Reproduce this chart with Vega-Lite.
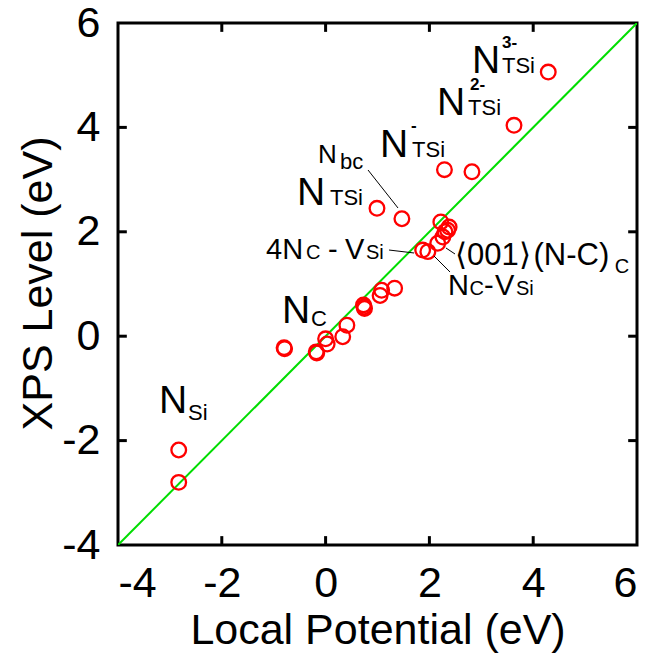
{
  "$schema": "https://vega.github.io/schema/vega-lite/v6.json",
  "width": 519,
  "height": 522,
  "autosize": "none",
  "padding": {"left": 118, "top": 23, "right": 17, "bottom": 110},
  "background": "white",
  "config": {
    "view": {"stroke": "black", "strokeWidth": 3},
    "axis": {"grid": false, "domain": false, "ticks": false, "labelFont": "Liberation Sans", "labelFontSize": 43, "labelColor": "black", "titleFont": "Liberation Sans", "titleFontSize": 43, "titleFontWeight": "normal", "titleColor": "black"}
  },
  "datasets": {
    "diag": [{"x": -4, "y": -4}, {"x": 6, "y": 6}],
    "tickvals": [{"v": -2}, {"v": 0}, {"v": 2}, {"v": 4}],
    "pts": [
      {"x": -2.83, "y": -2.18}, {"x": -2.83, "y": -2.80},
      {"x": -0.79, "y": -0.24}, {"x": -0.80, "y": -0.22},
      {"x": -0.18, "y": -0.30}, {"x": -0.17, "y": -0.32},
      {"x": 0.03, "y": -0.15}, {"x": 0.0, "y": -0.05},
      {"x": 0.33, "y": -0.01}, {"x": 0.41, "y": 0.21},
      {"x": 0.75, "y": 0.53}, {"x": 0.73, "y": 0.60}, {"x": 0.74, "y": 0.56},
      {"x": 1.05, "y": 0.78}, {"x": 1.08, "y": 0.88}, {"x": 1.33, "y": 0.92},
      {"x": 0.99, "y": 2.45}, {"x": 1.47, "y": 2.25},
      {"x": 1.87, "y": 1.65}, {"x": 1.97, "y": 1.62},
      {"x": 2.16, "y": 1.78}, {"x": 2.26, "y": 1.90}, {"x": 2.30, "y": 2.00},
      {"x": 2.35, "y": 2.03}, {"x": 2.38, "y": 2.09}, {"x": 2.22, "y": 2.19},
      {"x": 2.29, "y": 3.19}, {"x": 2.82, "y": 3.15},
      {"x": 3.63, "y": 4.04}, {"x": 4.29, "y": 5.06}
    ],
    "leaders": [
      {"x": 0.817, "y": 3.184, "x2": 1.395, "y2": 2.456},
      {"x": 1.222, "y": 1.651, "x2": 1.704, "y2": 1.594},
      {"x": 2.089, "y": 1.536, "x2": 2.397, "y2": 1.230},
      {"x": 2.319, "y": 1.690, "x2": 2.493, "y2": 1.575}
    ],
    "labels": [
      {"t": "N", "x": -3.21, "y": -1.471, "g": "lg"},
      {"t": "Si", "x": -2.651, "y": -1.605, "g": "sub"},
      {"t": "N", "x": -0.841, "y": 0.253, "g": "lg"},
      {"t": "C", "x": -0.281, "y": 0.195, "g": "sub"},
      {"t": "N", "x": -0.551, "y": 2.513, "g": "lg"},
      {"t": "TSi", "x": 0.085, "y": 2.513, "g": "sub"},
      {"t": "N", "x": -0.146, "y": 3.318, "g": "sm"},
      {"t": "bc", "x": 0.277, "y": 3.203, "g": "sub"},
      {"t": "N", "x": 1.048, "y": 3.433, "g": "lg"},
      {"t": "TSi", "x": 1.665, "y": 3.433, "g": "sub"},
      {"t": "-", "x": 1.645, "y": 3.931, "g": "sup"},
      {"t": "N", "x": 2.146, "y": 4.238, "g": "lg"},
      {"t": "TSi", "x": 2.744, "y": 4.238, "g": "sub"},
      {"t": "2-", "x": 2.782, "y": 4.716, "g": "sup"},
      {"t": "N", "x": 2.821, "y": 5.042, "g": "lg"},
      {"t": "TSi", "x": 3.399, "y": 5.042, "g": "sub"},
      {"t": "3-", "x": 3.399, "y": 5.521, "g": "sup"},
      {"t": "4N", "x": -1.148, "y": 1.479, "g": "md"},
      {"t": "C", "x": -0.378, "y": 1.479, "g": "sub2"},
      {"t": "-", "x": 0.046, "y": 1.479, "g": "md"},
      {"t": "V", "x": 0.374, "y": 1.479, "g": "md"},
      {"t": "Si", "x": 0.778, "y": 1.479, "g": "sub2"},
      {"t": "N", "x": 2.358, "y": 0.789, "g": "md"},
      {"t": "C", "x": 2.775, "y": 0.789, "g": "sub2"},
      {"t": "-", "x": 3.052, "y": 0.789, "g": "md"},
      {"t": "V", "x": 3.264, "y": 0.789, "g": "md"},
      {"t": "Si", "x": 3.669, "y": 0.789, "g": "sub2"},
      {"t": "⟨001⟩", "x": 2.493, "y": 1.364, "g": "md2"},
      {"t": "(N-C)", "x": 4.005, "y": 1.364, "g": "md2"},
      {"t": "C", "x": 5.57, "y": 1.211, "g": "sub2"}
    ]
  },
  "resolve": {"axis": {"x": "independent", "y": "independent"}},
  "layer": [
    {
      "data": {"name": "diag"},
      "mark": {"type": "line", "color": "#00dd00", "strokeWidth": 2, "clip": true},
      "encoding": {
        "x": {"field": "x", "type": "quantitative", "scale": {"domain": [-4, 6], "nice": false, "zero": false},
              "axis": {"orient": "bottom", "values": [-4, -2, 0, 2, 4, 6], "labelExpr": "datum.value < 0 ? '-' + abs(datum.value) : '' + datum.value", "title": "Local Potential (eV)", "labelPadding": 17, "titleY": 98, "titleBaseline": "alphabetic"}},
        "y": {"field": "y", "type": "quantitative", "scale": {"domain": [-4, 6], "nice": false, "zero": false},
              "axis": {"orient": "left", "values": [-4, -2, 0, 2, 4, 6], "labelExpr": "datum.value < 0 ? '-' + abs(datum.value) : '' + datum.value", "title": "XPS Level (eV)", "labelPadding": 18, "titleX": -80, "titleY": 260, "titleBaseline": "middle", "titleAlign": "center"}}
      }
    },
    {
      "data": {"name": "tickvals"},
      "mark": {"type": "rule", "color": "black", "strokeWidth": 3},
      "encoding": {
        "x": {"field": "v", "type": "quantitative", "scale": {"domain": [-4, 6], "nice": false, "zero": false}, "axis": null},
        "y": {"datum": -4, "type": "quantitative", "scale": {"domain": [-4, 6], "nice": false, "zero": false}, "axis": null},
        "y2": {"datum": -3.83}
      }
    },
    {
      "data": {"name": "tickvals"},
      "mark": {"type": "rule", "color": "black", "strokeWidth": 3},
      "encoding": {
        "x": {"field": "v", "type": "quantitative", "scale": {"domain": [-4, 6], "nice": false, "zero": false}, "axis": null},
        "y": {"datum": 6, "type": "quantitative", "scale": {"domain": [-4, 6], "nice": false, "zero": false}, "axis": null},
        "y2": {"datum": 5.83}
      }
    },
    {
      "data": {"name": "tickvals"},
      "mark": {"type": "rule", "color": "black", "strokeWidth": 3},
      "encoding": {
        "y": {"field": "v", "type": "quantitative", "scale": {"domain": [-4, 6], "nice": false, "zero": false}, "axis": null},
        "x": {"datum": -4, "type": "quantitative", "scale": {"domain": [-4, 6], "nice": false, "zero": false}, "axis": null},
        "x2": {"datum": -3.83}
      }
    },
    {
      "data": {"name": "tickvals"},
      "mark": {"type": "rule", "color": "black", "strokeWidth": 3},
      "encoding": {
        "y": {"field": "v", "type": "quantitative", "scale": {"domain": [-4, 6], "nice": false, "zero": false}, "axis": null},
        "x": {"datum": 6, "type": "quantitative", "scale": {"domain": [-4, 6], "nice": false, "zero": false}, "axis": null},
        "x2": {"datum": 5.83}
      }
    },
    {
      "data": {"name": "pts"},
      "mark": {"type": "point", "shape": "circle", "filled": false, "color": "#ff0000", "strokeWidth": 2.3, "size": 215, "opacity": 1},
      "encoding": {
        "x": {"field": "x", "type": "quantitative", "scale": {"domain": [-4, 6], "nice": false, "zero": false}, "axis": null},
        "y": {"field": "y", "type": "quantitative", "scale": {"domain": [-4, 6], "nice": false, "zero": false}, "axis": null}
      }
    },
    {
      "data": {"name": "leaders"},
      "mark": {"type": "rule", "color": "black", "strokeWidth": 1},
      "encoding": {
        "x": {"field": "x", "type": "quantitative", "scale": {"domain": [-4, 6], "nice": false, "zero": false}, "axis": null},
        "y": {"field": "y", "type": "quantitative", "scale": {"domain": [-4, 6], "nice": false, "zero": false}, "axis": null},
        "x2": {"field": "x2"},
        "y2": {"field": "y2"}
      }
    },
    {
      "data": {"name": "labels"},
      "transform": [{"filter": "datum.g === 'lg'"}],
      "mark": {"type": "text", "align": "left", "baseline": "alphabetic", "font": "Liberation Sans", "fontSize": 39, "color": "black"},
      "encoding": {
        "x": {"field": "x", "type": "quantitative", "scale": {"domain": [-4, 6], "nice": false, "zero": false}, "axis": null},
        "y": {"field": "y", "type": "quantitative", "scale": {"domain": [-4, 6], "nice": false, "zero": false}, "axis": null},
        "text": {"field": "t"}
      }
    },
    {
      "data": {"name": "labels"},
      "transform": [{"filter": "datum.g === 'md'"}],
      "mark": {"type": "text", "align": "left", "baseline": "alphabetic", "font": "Liberation Sans", "fontSize": 29, "color": "black"},
      "encoding": {
        "x": {"field": "x", "type": "quantitative", "scale": {"domain": [-4, 6], "nice": false, "zero": false}, "axis": null},
        "y": {"field": "y", "type": "quantitative", "scale": {"domain": [-4, 6], "nice": false, "zero": false}, "axis": null},
        "text": {"field": "t"}
      }
    },
    {
      "data": {"name": "labels"},
      "transform": [{"filter": "datum.g === 'md2'"}],
      "mark": {"type": "text", "align": "left", "baseline": "alphabetic", "font": "Liberation Sans", "fontSize": 31, "color": "black"},
      "encoding": {
        "x": {"field": "x", "type": "quantitative", "scale": {"domain": [-4, 6], "nice": false, "zero": false}, "axis": null},
        "y": {"field": "y", "type": "quantitative", "scale": {"domain": [-4, 6], "nice": false, "zero": false}, "axis": null},
        "text": {"field": "t"}
      }
    },
    {
      "data": {"name": "labels"},
      "transform": [{"filter": "datum.g === 'sm'"}],
      "mark": {"type": "text", "align": "left", "baseline": "alphabetic", "font": "Liberation Sans", "fontSize": 26, "color": "black"},
      "encoding": {
        "x": {"field": "x", "type": "quantitative", "scale": {"domain": [-4, 6], "nice": false, "zero": false}, "axis": null},
        "y": {"field": "y", "type": "quantitative", "scale": {"domain": [-4, 6], "nice": false, "zero": false}, "axis": null},
        "text": {"field": "t"}
      }
    },
    {
      "data": {"name": "labels"},
      "transform": [{"filter": "datum.g === 'sub'"}],
      "mark": {"type": "text", "align": "left", "baseline": "alphabetic", "font": "Liberation Sans", "fontSize": 22, "color": "black"},
      "encoding": {
        "x": {"field": "x", "type": "quantitative", "scale": {"domain": [-4, 6], "nice": false, "zero": false}, "axis": null},
        "y": {"field": "y", "type": "quantitative", "scale": {"domain": [-4, 6], "nice": false, "zero": false}, "axis": null},
        "text": {"field": "t"}
      }
    },
    {
      "data": {"name": "labels"},
      "transform": [{"filter": "datum.g === 'sub2'"}],
      "mark": {"type": "text", "align": "left", "baseline": "alphabetic", "font": "Liberation Sans", "fontSize": 20, "color": "black"},
      "encoding": {
        "x": {"field": "x", "type": "quantitative", "scale": {"domain": [-4, 6], "nice": false, "zero": false}, "axis": null},
        "y": {"field": "y", "type": "quantitative", "scale": {"domain": [-4, 6], "nice": false, "zero": false}, "axis": null},
        "text": {"field": "t"}
      }
    },
    {
      "data": {"name": "labels"},
      "transform": [{"filter": "datum.g === 'sup'"}],
      "mark": {"type": "text", "align": "left", "baseline": "alphabetic", "font": "Liberation Sans", "fontSize": 17, "fontWeight": "bold", "color": "black"},
      "encoding": {
        "x": {"field": "x", "type": "quantitative", "scale": {"domain": [-4, 6], "nice": false, "zero": false}, "axis": null},
        "y": {"field": "y", "type": "quantitative", "scale": {"domain": [-4, 6], "nice": false, "zero": false}, "axis": null},
        "text": {"field": "t"}
      }
    }
  ]
}
